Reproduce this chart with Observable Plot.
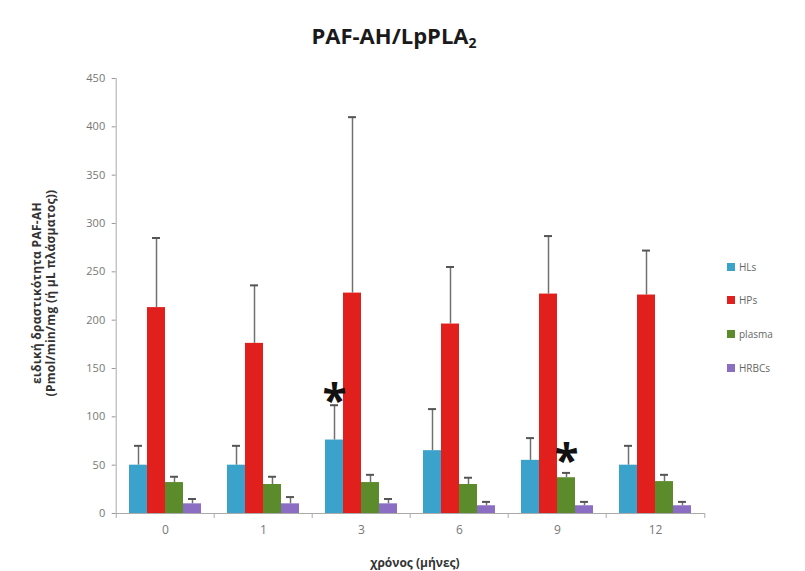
<!DOCTYPE html>
<html>
<head>
<meta charset="utf-8">
<script src="https://cdn.jsdelivr.net/npm/d3@7"></script>
<script src="https://cdn.jsdelivr.net/npm/@observablehq/plot@0.6"></script>
<style>
  body { margin: 0; background: #fff; font-family: "Open Sans", sans-serif; }
  #wrap { position: relative; width: 805px; height: 571px; overflow: hidden; }
  #title { position: absolute; left: 0; width: 788px; top: 20px; text-align: center; font-weight: bold; font-size: 22px; color: #1a1a1a; }
  #title sub { font-size: 14px; vertical-align: -4px; line-height: 0; }
  #ylabel { position: absolute; left: 44px; top: 293px; transform: translate(-50%, -50%) rotate(-90deg); white-space: nowrap; text-align: center; font-weight: bold; font-size: 12px; line-height: 14px; color: #333; letter-spacing: 0.3px; }
  #xlabel { position: absolute; left: 0; width: 830px; top: 554px; text-align: center; font-weight: bold; font-size: 12px; color: #333; }
  #legend { position: absolute; left: 727px; font-size: 10px; color: #666; }
  #legend .item { display: flex; align-items: center; height: 33.6px; margin-top: -12px; margin-bottom: 12px; }
  #legend .sw { width: 8px; height: 8px; margin-right: 4px; }
  svg { position: absolute; left: 0; top: 0; }
</style>
</head>
<body>
<div id="wrap">
  <div id="title">PAF-AH/LpPLA<sub>2</sub></div>
  <div id="ylabel">ειδική δραστικότητα PAF-AH<br>(Pmol/min/mg (ή μL πλάσματος))</div>
  <div id="xlabel">χρόνος (μήνες)</div>
  <div id="legend"></div>
</div>
<script>
const months = ["0", "1", "3", "6", "9", "12"];
const series = ["HLs", "HPs", "plasma", "HRBCs"];
const colors = ["#3ba3cb", "#e11f1c", "#5b8b2b", "#8b6dc3"];

const HLs      = [50, 50, 76, 65, 55, 50];
const HLsErr   = [20, 20, 36, 43, 23, 20];
const HPs      = [213, 176, 228, 196, 227, 226];
const HPsErr   = [72, 60, 182, 59, 60, 46];
const plasma   = [32, 30, 32, 30, 37, 33];
const plasmaErr= [6, 8, 8, 7, 5, 7];
const HRBCs    = [10, 10, 10, 8, 8, 8];
const HRBCsErr = [5, 7, 5, 4, 4, 4];

const yTicks = [0, 50, 100, 150, 200, 250, 300, 350, 400, 450];

// significance markers
const starMonths = ["3", "9"];
const starSeries = ["HLs", "plasma"];
const starY = [124, 62];

const values = {HLs, HPs, plasma, HRBCs};
const errs = {HLs: HLsErr, HPs: HPsErr, plasma: plasmaErr, HRBCs: HRBCsErr};
const rows = [];
months.forEach((m, i) => series.forEach(s => rows.push({month: m, series: s, value: values[s][i], top: values[s][i] + errs[s][i]})));
const stars = starMonths.map((m, i) => ({month: m, series: starSeries[i], y: starY[i]}));

const gap = 13.3;     // half of the gap between groups (px)
const halfBar = 9;    // half bar width (px)
const chart = Plot.plot({
  width: 805,
  height: 571,
  marginTop: 78,
  marginBottom: 58,
  marginLeft: 115,
  marginRight: 100,
  style: {fontFamily: "Open Sans, sans-serif", background: "transparent"},
  fx: {domain: months, paddingInner: 0.27, paddingOuter: 0.135, label: null, axis: null},
  x: {domain: series, axis: null, padding: 0},
  y: {domain: [0, 450], ticks: yTicks, label: null, axis: null},
  color: {domain: series, range: colors},
  marks: [
    Plot.axisY({ticks: yTicks, anchor: "left", dx: -gap, tickSize: 4, tickPadding: 7, fontSize: 11, color: "#777", stroke: "#999", label: null}),
    Plot.axisFx({anchor: "bottom", tickSize: 0, tickPadding: 12, fontSize: 12, color: "#777", label: null}),
    // y axis line
    Plot.ruleX([months[0]], {fx: d => d, x: () => series[0], y1: () => 0, y2: () => 450, dx: -(gap + halfBar), stroke: "#aaa"}),
    // x axis line
    Plot.ruleY(months, {fx: d => d, y: () => 0, stroke: "#aaa", insetLeft: -gap, insetRight: -gap}),
    // category separator ticks
    Plot.ruleX(months, {fx: d => d, x: () => series[0], y1: () => 0, y2: () => 0, insetBottom: -5, dx: -(gap + halfBar), stroke: "#aaa"}),
    Plot.ruleX([months[months.length - 1]], {fx: d => d, x: () => series[series.length - 1], y1: () => 0, y2: () => 0, insetBottom: -5, dx: gap + halfBar, stroke: "#aaa"}),
    Plot.barY(rows, {fx: "month", x: "series", y: "value", fill: "series"}),
    Plot.ruleX(rows, {fx: "month", x: "series", y1: "value", y2: "top", stroke: "#707070", strokeWidth: 1.5}),
    Plot.tickY(rows, {fx: "month", x: "series", y: "top", stroke: "#555", strokeWidth: 2, insetLeft: 5, insetRight: 5}),
    Plot.text(stars, {fx: "month", x: "series", y: "y", text: () => "*", fontSize: 44, fontWeight: "bold", fill: "#111", dy: 8})
  ]
});
document.getElementById("wrap").appendChild(chart);

const legend = document.getElementById("legend");
legend.style.top = "262px";
series.forEach((s, i) => {
  const it = document.createElement("div");
  it.className = "item";
  it.innerHTML = `<div class="sw" style="background:${colors[i]}"></div><span>${s}</span>`;
  legend.appendChild(it);
});
</script>
</body>
</html>
